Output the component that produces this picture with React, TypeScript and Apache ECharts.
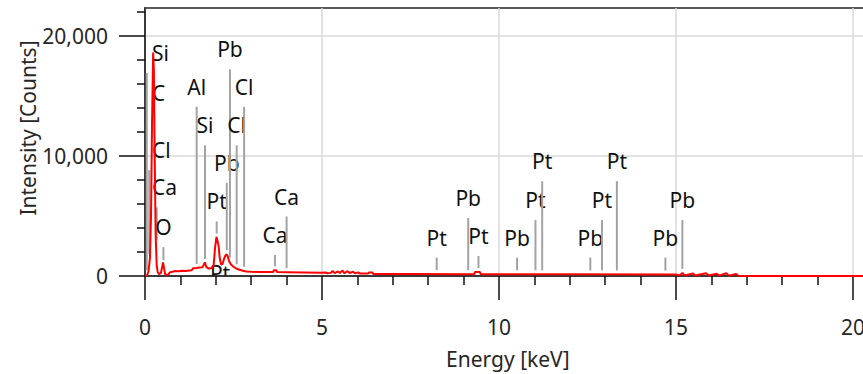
import React, { useEffect, useRef } from "react";
import * as echarts from "echarts";

// Spectrum (keV, counts)
const spectrumKeV = [
  0, 0.06, 0.1, 0.14, 0.17, 0.2, 0.23, 0.25, 0.27, 0.3, 0.33, 0.36, 0.4, 0.45, 0.48, 0.51, 0.54, 0.57,
  0.62, 0.66, 0.7, 0.78, 0.85, 0.95, 1.05, 1.15, 1.25, 1.32, 1.36, 1.45, 1.55, 1.62, 1.66, 1.69, 1.73,
  1.8, 1.88, 1.94, 1.98, 2.02, 2.05, 2.08, 2.11, 2.15, 2.19, 2.23, 2.27, 2.31, 2.34, 2.38, 2.43, 2.49,
  2.57, 2.67, 2.77, 2.86, 3.0, 3.2, 3.4, 3.62, 3.64, 3.71, 3.73, 4.0, 4.5, 4.98, 5.1, 5.15, 5.25, 5.3,
  5.36, 5.45, 5.5, 5.58, 5.63, 5.72, 5.78, 5.88, 5.93, 6.02, 6.07, 6.3, 6.33, 6.42, 6.45, 7.5, 9.3,
  9.32, 9.46, 9.48, 12, 15.0, 15.1, 15.18, 15.24, 15.48, 15.54, 15.85, 15.92, 16.15, 16.22, 16.42,
  16.5, 16.7, 16.76, 17.2, 20.5,
];
const spectrumCounts = [
  0, 60, 400, 1500, 5000, 13000, 18600, 17200, 11000, 3500, 900, 300, 150, 250, 700, 1130, 600, 150,
  80, 120, 300, 360, 420, 400, 430, 420, 460, 480, 650, 660, 700, 720, 950, 1130, 760,
  620, 660, 900, 2400, 3260, 2900, 2500, 1500, 950, 1000, 1400, 1700, 1800, 1600, 1200, 950, 790,
  640, 520, 440, 380, 350, 340, 330, 330, 480, 480, 330, 320, 300, 270, 300, 230, 260, 420,
  240, 380, 250, 460, 230, 400, 250, 360, 220, 300, 200, 200, 300, 300, 170, 160, 150,
  330, 330, 150, 140, 120, 50, 260, 50, 210, 40, 230, 40, 190, 30, 230,
  30, 160, 20, 10, 10,
];

// Element markers
const peakNames = [
  "Si", "C", "Cl", "Ca", "O",
  "Al", "Si", "Pt", "Pb", "Pb", "Cl", "Cl", "Ca", "Ca", "Pt",
  "Pt", "Pb", "Pt", "Pb", "Pt", "Pt", "Pb", "Pt", "Pt", "Pb", "Pb",
];
const peakKeV = [
  0.05, 0.24, 0.12, 0.33, 0.52,
  1.46, 1.695, 2.025, 2.31, 2.4, 2.59, 2.8, 3.67, 4.0, 2.12,
  8.24, 9.13, 9.42, 10.51, 11.03, 11.22, 12.58, 12.91, 13.33, 14.7, 15.18,
];
const peakHeights = [
  16900, 13600, 8800, 5700, 2400,
  14080, 10870, 4540, 7750, 17200, 10870, 14080, 1750, 4950, -1450,
  1530, 4820, 1670, 1530, 4650, 7890, 1530, 4650, 7890, 1530, 4650,
];
// keV where a side label starts (-1 = centred over its line)
const labelKeV = [
  0.2, 0.2, 0.2, 0.2, 0.29,
  -1, -1, -1, -1, -1, -1, -1, -1, -1, -1,
  -1, -1, -1, -1, -1, -1, -1, -1, -1, -1, -1,
];

const xMajorTicks = [0, 5, 10, 15, 20];
const xMinorTicks = [1, 2, 3, 4, 6, 7, 8, 9, 11, 12, 13, 14, 16, 17, 18, 19];
const yMajorTicks = [0, 10000, 20000];
const yMinorTicks = [2000, 4000, 6000, 8000, 12000, 14000, 16000, 18000, 22000];

const FONT = "Noto Sans";
const FS = 21;

function specAt(e: number): number {
  if (e <= spectrumKeV[0]) return spectrumCounts[0];
  for (let i = 1; i < spectrumKeV.length; i++) {
    if (e <= spectrumKeV[i]) {
      const t = (e - spectrumKeV[i - 1]) / (spectrumKeV[i] - spectrumKeV[i - 1]);
      return spectrumCounts[i - 1] + t * (spectrumCounts[i] - spectrumCounts[i - 1]);
    }
  }
  return spectrumCounts[spectrumCounts.length - 1];
}

export default function App() {
  const ref = useRef<HTMLDivElement>(null);
  useEffect(() => {
    if (!ref.current) return;
    const chart = echarts.init(ref.current, undefined, { renderer: "svg" });
    const spectrum = spectrumKeV.map((k, i) => [k, spectrumCounts[i]]);
    const peaks = peakKeV.map((k, i) => [k, peakHeights[i], labelKeV[i]]);
    const XMAX = 20.5;
    const YMAX = 22300;
    chart.setOption({
      animation: false,
      backgroundColor: "#ffffff",
      grid: {
        left: 145,
        top: 8,
        width: XMAX * 35.4,
        height: 271.3,
        show: true,
        borderColor: "#262626",
        borderWidth: 1.5,
        backgroundColor: "#ffffff",
      },
      graphic: [
        {
          type: "text",
          x: 28,
          y: 128,
          rotation: Math.PI / 2,
          style: {
            text: "Intensity [Counts]",
            fontSize: FS,
            fontFamily: FONT,
            fill: "#262626",
            align: "center",
            verticalAlign: "middle",
          },
        },
      ],
      xAxis: [
        {
          type: "value",
          min: 0,
          max: XMAX,
          interval: 5,
          position: "bottom",
          name: "Energy [keV]",
          nameLocation: "middle",
          nameGap: 72,
          nameTextStyle: { fontSize: FS, fontFamily: FONT, color: "#262626" },
          axisLine: { show: true, onZero: false, lineStyle: { color: "#111", width: 1.5 } },
          axisTick: { show: true, length: 24, lineStyle: { color: "#111", width: 1.5 }, customValues: xMajorTicks },
          axisLabel: { margin: 40, fontSize: FS, fontFamily: FONT, color: "#262626", customValues: xMajorTicks },
          splitLine: { show: true, lineStyle: { color: "#d9d9d9", width: 1.5 } },
        },
        {
          type: "value",
          min: 0,
          max: XMAX,
          position: "bottom",
          axisLine: { show: false },
          axisTick: { show: true, length: 9, lineStyle: { color: "#111", width: 1.5 }, customValues: xMinorTicks },
          axisLabel: { show: false },
          splitLine: { show: false },
        },
      ],
      yAxis: [
        {
          type: "value",
          min: 0,
          max: YMAX,
          interval: 10000,
          position: "left",
          axisLine: { show: true, onZero: false, lineStyle: { color: "#111", width: 1.5 } },
          axisTick: { show: true, length: 26, lineStyle: { color: "#111", width: 1.5 }, customValues: yMajorTicks },
          axisLabel: { margin: 37, fontSize: FS, fontFamily: FONT, color: "#262626", customValues: yMajorTicks },
          splitLine: { show: true, lineStyle: { color: "#d9d9d9", width: 1.5 } },
        },
        {
          type: "value",
          min: 0,
          max: YMAX,
          position: "left",
          axisLine: { show: false },
          axisTick: { show: true, length: 8, lineStyle: { color: "#111", width: 1.5 }, customValues: yMinorTicks },
          axisLabel: { show: false },
          splitLine: { show: false },
        },
      ],
      series: [
        {
          type: "custom",
          xAxisIndex: 0,
          yAxisIndex: 0,
          clip: true,
          z: 2,
          data: peaks,
          encode: { x: 0, y: 1 },
          renderItem: (params: any, api: any) => {
            const e = api.value(0);
            const h = api.value(1);
            const lk = api.value(2);
            const top = api.coord([e, h]);
            const base = Math.max(specAt(e - 0.02), specAt(e), specAt(e + 0.02));
            const bottomY = api.coord([e, base])[1] - 4;
            const children: any[] = [];
            if (bottomY > top[1] + 1) {
              children.push({
                type: "line",
                shape: { x1: top[0], y1: top[1], x2: top[0], y2: bottomY },
                style: { stroke: "#a3a3a3", lineWidth: 2 },
              });
            }
            const side = lk >= 0;
            children.push({
              type: "text",
              x: side ? api.coord([lk, 0])[0] : top[0],
              y: top[1] - 20,
              style: {
                text: peakNames[params.dataIndex],
                fill: "#111",
                fontSize: FS,
                fontFamily: FONT,
                align: side ? "left" : "center",
                verticalAlign: "middle",
              },
            });
            return { type: "group", children };
          },
        },
        {
          type: "line",
          xAxisIndex: 0,
          yAxisIndex: 0,
          z: 3,
          data: spectrum,
          showSymbol: false,
          symbol: "none",
          lineStyle: { color: "#ff0000", width: 2 },
          itemStyle: { color: "#ff0000" },
        },
      ],
    });
    return () => chart.dispose();
  }, []);
  return (
    <div
      style={{ position: "absolute", left: 0, top: 0, width: 863, height: 374, overflow: "hidden", background: "#fff" }}
    >
      <div ref={ref} style={{ width: 900, height: 374 }} />
    </div>
  );
}
